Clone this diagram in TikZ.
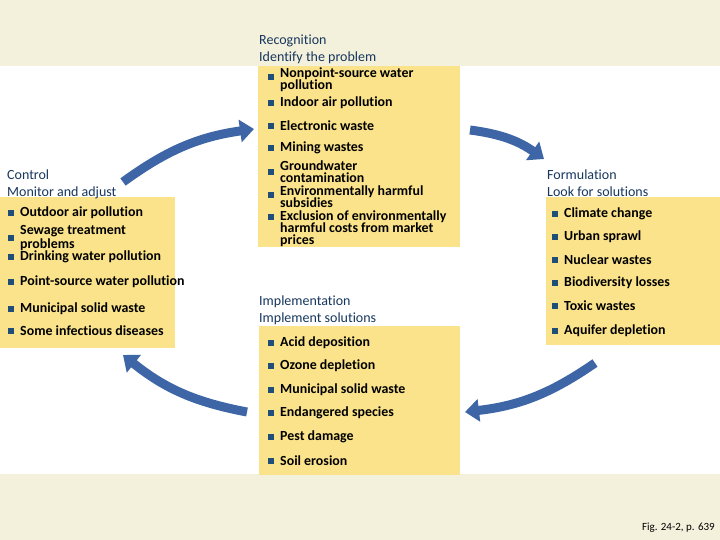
\documentclass[tikz,border=0pt]{standalone}
\usepackage{fontspec}
\setmainfont[Ligatures=NoCommon]{Carlito}
\usetikzlibrary{arrows.meta}
\definecolor{cream}{HTML}{F3F0DC}
\definecolor{paneY}{HTML}{FAE38B}
\definecolor{navy}{HTML}{17375E}
\definecolor{tickB}{HTML}{1F4E79}
\definecolor{cycB}{HTML}{3E66A6}
\tikzset{
  pane/.style    ={fill=paneY, draw=none},
  phase/.style   ={anchor=west, inner sep=0pt, text=navy,
                   font=\fontsize{14}{17}\selectfont, align=left},
  issue/.style   ={anchor=west, inner sep=0pt, align=left,
                   font=\fontsize{13.9}{12}\selectfont\bfseries,
                   label={[tick, label distance=6pt, yshift=#1]left:}},
  issue/.default=0pt,
  tick/.style    ={fill=tickB, minimum size=6pt, inner sep=0pt},
  turn/.style    ={cycB, line width=9pt, bend left=14,
                   -{Triangle[length=14pt, width=22pt]}},
}

\begin{document}
\begin{tikzpicture}[x=1pt, y=-1pt]
\useasboundingbox (0,0) rectangle (720,540);

% background bands
\fill[cream] (0,0) rectangle (720,540);
\fill[white] (0,66) rectangle (720,474);

% the four panes
\fill[pane] (258,66)  rectangle (460,247);
\fill[pane] (0,197)   rectangle (175,348);
\fill[pane] (546,197) rectangle (720,345);
\fill[pane] (259,326) rectangle (460,475);

% Recognition (top)
\node[phase] (recog) at (259,49) {Recognition\\Identify the problem};
\node[issue=3pt] (r1) at (280,80)  {Nonpoint-source water\\pollution};
\node[issue] (r2) at (280,103) {Indoor air pollution};
\node[issue] (r3) at (280,126) {Electronic waste};
\node[issue] (r4) at (280,148) {Mining wastes};
\node[issue] (r5) at (280,172) {Groundwater\\contamination};
\node[issue=2pt] (r6) at (280,197) {Environmentally harmful\\subsidies};
\node[issue=12pt] (r7) at (280,229)
  {Exclusion of environmentally\\harmful costs from market\\prices};

% Control (left)
\node[phase] (ctrl) at (7,184) {Control\\Monitor and adjust};
\node[issue] (c1) at (20,213) {Outdoor air pollution};
\node[issue] (c2) at (20,238) {Sewage treatment\\problems};
\node[issue] (c3) at (20,257) {Drinking water pollution};
\node[issue] (c4) at (20,282) {Point-source water pollution};
\node[issue] (c5) at (20,309) {Municipal solid waste};
\node[issue] (c6) at (20,331) {Some infectious diseases};

% Formulation (right)
\node[phase] (form) at (547,183) {Formulation\\Look for solutions};
\foreach \i/\y/\t in {1/214/Climate change, 2/237/Urban sprawl,
                      3/260/Nuclear wastes, 4/283/Biodiversity losses,
                      5/306/Toxic wastes, 6/331/Aquifer depletion} {
  \node[issue] (f\i) at (564,\y) {\t};
}

% Implementation (bottom)
\node[phase] (impl) at (259,310) {Implementation\\Implement solutions};
\foreach \i/\y/\t in {1/343/Acid deposition, 2/366/Ozone depletion,
                      3/390/Municipal solid waste, 4/413/Endangered species,
                      5/437/Pest damage, 6/461/Soil erosion} {
  \node[issue] (m\i) at (280,\y) {\t};
}

% cycle arrows
\coordinate (aTL) at (123,182);  \coordinate (bTL) at (254,129);
\coordinate (aTR) at (470,130);  \coordinate (bTR) at (544,159);
\coordinate (aBR) at (595,363);  \coordinate (bBR) at (465,412);
\coordinate (aBL) at (247,412);  \coordinate (bBL) at (123,355);
\draw[turn] (aTL) to (bTL);
\draw[turn] (aTR) to (bTR);
\draw[turn] (aBR) to (bBR);
\draw[turn] (aBL) to (bBL);

\node[anchor=east, inner sep=0pt, font=\fontsize{11}{12}\selectfont]
  (fig) at (715,528) {Fig. 24-2, p. 639};

\end{tikzpicture}
\end{document}
